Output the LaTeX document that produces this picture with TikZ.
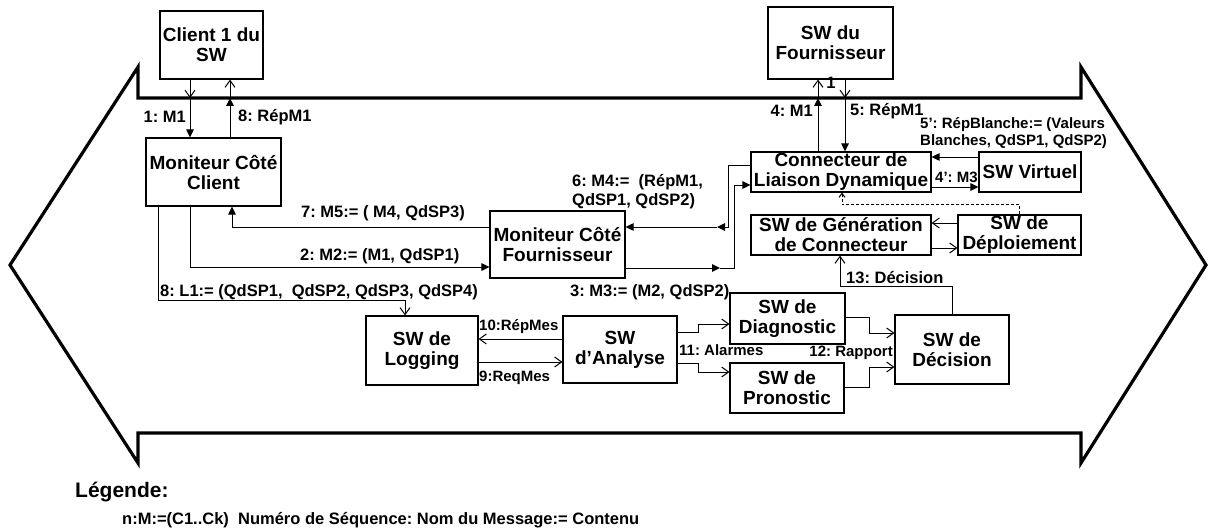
\documentclass[tikz,border=0pt]{standalone}
\usepackage{fontspec}
\setmainfont{Liberation Sans}
\usetikzlibrary{arrows.meta, calc}
\frenchspacing

\begin{document}
\begin{tikzpicture}[
  x=1pt, y=-1pt,
  every node/.style={font=\bfseries},
  box/.style={draw=black, line width=1.1pt, inner sep=0pt, align=center, font=\fontsize{19}{20}\selectfont\bfseries},
  lab/.style={inner sep=0pt, font=\fontsize{16.5}{19}\selectfont\bfseries},
  lab small/.style={lab, font=\fontsize{15}{17}\selectfont\bfseries},
  arrow/.style={-{Triangle[length=8pt, width=7.5pt]}, line width=1pt},
  open-arrow/.style={-{Straight Barb[length=7pt, width=10pt]}, line width=1pt},
  dash-arrow/.style={-{Straight Barb[length=4pt, width=6pt]}, line width=1pt, dash pattern=on 3pt off 2pt},
  frame/.style={line width=3.2pt, line join=miter},
  legend/.style={inner sep=0pt, anchor=west}
]
\useasboundingbox (0,0) rectangle (1209,532);

% outer boundary
\draw[frame] (138,67) -- (138,98) -- (1081,98) -- (1081,67) -- (1206,265)
  -- (1081,463) -- (1081,433) -- (138,433) -- (138,463) -- (10,265) -- cycle;

% boxes
\node[box, minimum width=103pt, minimum height=68pt] (client) at (211.5,45) {Client 1 du\\SW};
\node[box, minimum width=135pt, minimum height=68pt] (moncl) at (213.5,172) {Moniteur Côté\\Client};
\node[box, minimum width=125pt, minimum height=72pt] (fourn) at (830.5,43) {SW du\\Fournisseur};
\node[box, minimum width=180pt, minimum height=40pt] (conn) at (841,172) {Connecteur de\\Liaison Dynamique};
\node[box, minimum width=102pt, minimum height=40pt] (virt) at (1030,172) {SW Virtuel};
\node[box, minimum width=180pt, minimum height=40pt] (gen) at (841,235) {SW de Génération\\de Connecteur};
\node[box, minimum width=123pt, minimum height=40pt] (depl) at (1019.5,235) {SW de\\Déploiement};
\node[box, minimum width=135pt, minimum height=67pt] (monf) at (557.5,244.5) {Moniteur Côté\\Fournisseur};
\node[box, minimum width=112pt, minimum height=69pt] (logg) at (422,350.5) {SW de\\Logging};
\node[box, minimum width=114pt, minimum height=67pt] (anal) at (620,349.5) {SW\\d’Analyse};
\node[box, minimum width=115pt, minimum height=51pt] (diag) at (787.5,318.5) {SW de\\Diagnostic};
\node[box, minimum width=114pt, minimum height=50pt] (pron) at (787,388) {SW de\\Pronostic};
\node[box, minimum width=114pt, minimum height=69pt] (deci) at (952,349.5) {SW de\\Décision};
\node[lab] (one) at (831,83) {1};

% crossings of the boundary
\coordinate (b1) at (190,98);
\coordinate (b8) at (230,98);
\coordinate (b4) at (818,98);
\coordinate (b5) at (845,98);

\draw[open-arrow] (client.south -| b1) -- (b1);
\draw[arrow] (b1) -- (moncl.north -| b1);
\draw[arrow] (moncl.north -| b8) -- (b8);
\draw[open-arrow] (b8) -- (client.south -| b8);
\draw[arrow] (conn.north -| b4) -- (b4);
\draw[open-arrow] (b4) -- (fourn.south -| b4);
\draw[open-arrow] (fourn.south -| b5) -- (b5);
\draw[arrow] (b5) -- (conn.north -| b5);

% connector side
\draw[arrow] ($(virt.west)+(0,-15)$) -- ($(conn.east)+(0,-15)$);
\draw[arrow] ($(conn.east)+(0,15)$) -- ($(virt.west)+(0,15)$);
\draw[dash-arrow] (depl.north) |- ($(conn.south)+(1,12)$) -- ($(conn.south)+(1,0)$);
\draw[open-arrow] ($(depl.west)+(0,-12)$) -- ($(gen.east)+(0,-12)$);
\draw[open-arrow] ($(gen.east)+(0,13)$) -- ($(depl.west)+(0,13)$);

% monitors
\coordinate (j6) at (717,227);
\coordinate (j3) at (720,268);
\draw[arrow] ($(conn.west)+(0,-7)$) -- ++(-22,0) |- (j6);
\draw[arrow] (j6) -- (monf.east |- j6);
\draw[arrow] (monf.east |- j3) -- (j3);
\draw[arrow] (j3) -| ($(conn.west)+(-16,13)$) -- ($(conn.west)+(0,13)$);
\draw[arrow] ($(monf.west)+(0,-17.5)$) -| ($(moncl.south)+(18.5,0)$);
\draw[arrow] ($(moncl.south)+(-23.5,0)$) |- ($(monf.west)+(0,22.5)$);
\draw[open-arrow] ($(moncl.south)+(-55.5,0)$) |- ($(logg.north)+(-17,-15)$) -- ($(logg.north)+(-17,0)$);

% analysis chain
\draw[open-arrow] ($(anal.west)+(0,-10.5)$) -- ($(logg.east)+(0,-11.5)$);
\draw[open-arrow] ($(logg.east)+(0,11.5)$) -- ($(anal.west)+(0,12.5)$);
\draw[open-arrow] ($(anal.east)+(0,-17.5)$) -- ++(21,0) |- ($(diag.west)+(0,5.5)$);
\draw[open-arrow] ($(anal.east)+(0,13.5)$) -- ++(21,0) |- ($(pron.west)+(0,-16)$);
\draw[open-arrow] ($(diag.east)+(0,-1.5)$) -- ++(24,0) |- ($(deci.west)+(0,-16.5)$);
\draw[open-arrow] ($(pron.east)+(0,-1)$) -- ++(25,0) |- ($(deci.west)+(0,17.5)$);
\draw[open-arrow] (deci.north) |- ($(gen.south)+(-1,31)$) -- ($(gen.south)+(-1,0)$);

% message labels
\node[lab, anchor=east] (l1) at (186,117) {1: M1};
\node[lab, anchor=west] (l8) at (238,117) {8: RépM1};
\node[lab, anchor=east] (l4) at (813,111) {4: M1};
\node[lab, anchor=west] (l5) at (850,111) {5: RépM1};
\node[lab small, anchor=west, align=left] (l5b) at (920,133) {5’: RépBlanche:= (Valeurs\\Blanches, QdSP1, QdSP2)};
\node[lab small, anchor=west] (l4b) at (935,177) {4’: M3};
\node[lab, anchor=west, align=left] (l6) at (572,192) {6: M4:=\ \ (RépM1,\\QdSP1, QdSP2)};
\node[lab, anchor=west] (l7) at (301,213) {7: M5:= ( M4, QdSP3)};
\node[lab, anchor=west] (l2) at (300,256) {2: M2:= (M1, QdSP1)};
\node[lab, anchor=west] (l8b) at (160,292) {8: L1:= (QdSP1,\ \ QdSP2, QdSP3, QdSP4)};
\node[lab, anchor=west] (l3) at (570,292) {3: M3:= (M2, QdSP2)};
\node[lab small, anchor=west] (l10) at (479,327) {10:RépMes};
\node[lab small, anchor=west] (l9) at (479,378) {9:ReqMes};
\node[lab small, anchor=west] (l11) at (679,350) {11: Alarmes};
\node[lab small, anchor=east] (l12) at (893,353) {12: Rapport};
\node[lab, anchor=west] (l13) at (846,278) {13: Décision};

% legend
\node[legend, font=\fontsize{21}{24}\selectfont\bfseries] (leg) at (75,492) {Légende:};
\node[legend, font=\fontsize{16.5}{19}\selectfont\bfseries] (legtxt) at (122,520)
  {n:M:=(C1..Ck)\ \ Numéro de Séquence: Nom du Message:= Contenu};
\end{tikzpicture}
\end{document}
